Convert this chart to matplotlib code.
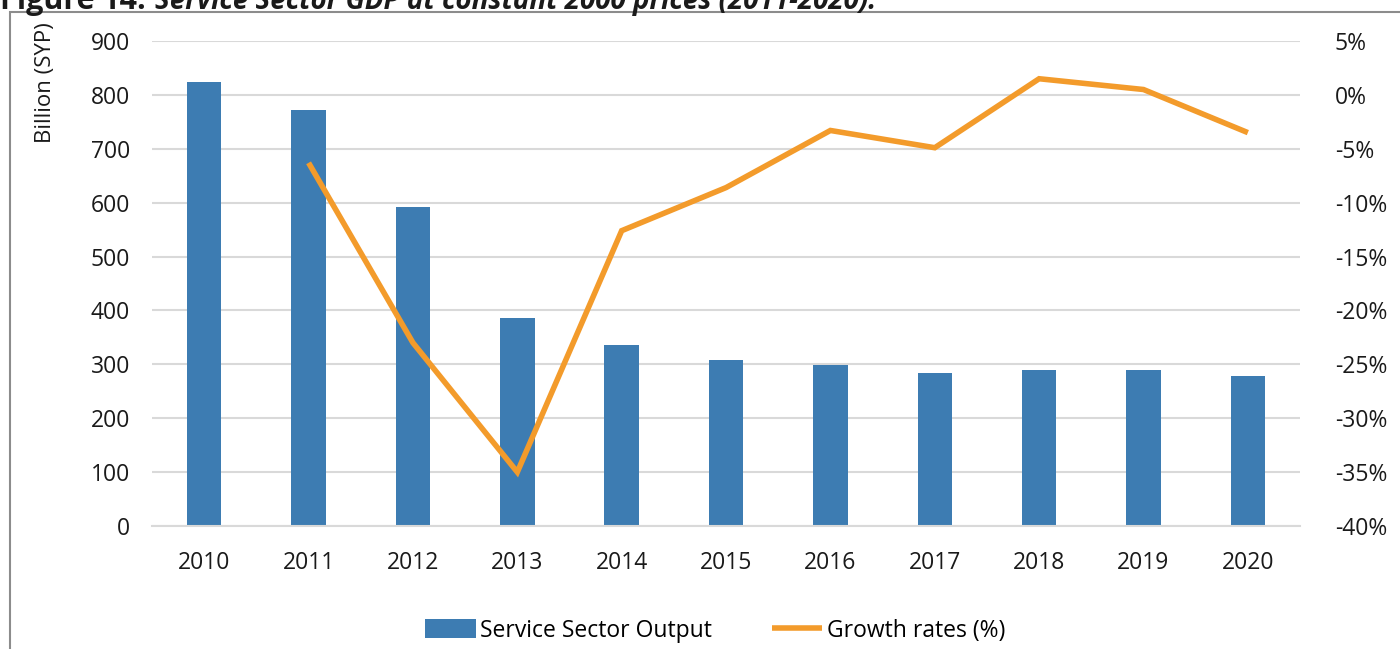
import numpy as np
import matplotlib
matplotlib.use("Agg")
import matplotlib.pyplot as plt
from matplotlib.patches import Rectangle
from matplotlib.ticker import FuncFormatter

plt.rcParams['font.family'] = ['Open Sans', 'DejaVu Sans']

years = ['2010', '2011', '2012', '2013', '2014', '2015', '2016', '2017', '2018', '2019', '2020']
output = [824, 772, 592, 386, 336, 308, 299, 284, 289, 289, 278]
growth_years = years[1:]
growth = [-6.3, -23.0, -35.0, -12.6, -8.6, -3.3, -4.9, 1.5, 0.5, -3.5]

bar_color = '#3d7cb2'
line_color = '#f39b2b'
grid_color = '#d9d9d9'
text_color = '#1a1a1a'

fig = plt.figure(figsize=(14, 6.49), dpi=100)
ax = fig.add_axes([0.1086, 0.1895, 0.82, 0.7473])

x = np.arange(len(years))
ax.bar(x, output, width=0.33, color=bar_color, label='Service Sector Output', zorder=2)
ax.set_xlim(-0.5, len(years) - 0.5)
ax.set_ylim(0, 900)
ax.set_yticks(range(0, 901, 100))
ax.set_xticks(x)
ax.set_xticklabels(years)
ax.grid(axis='y', color=grid_color, linewidth=1.5, zorder=0)
for s in ['top', 'right', 'left']:
    ax.spines[s].set_visible(False)
ax.spines['bottom'].set_color(grid_color)
ax.spines['bottom'].set_linewidth(1.5)
ax.tick_params(axis='both', length=0, labelsize=16.5, colors=text_color)
ax.tick_params(axis='y', pad=16)
ax.tick_params(axis='x', pad=18)
ax.set_ylabel('Billion (SYP)', fontsize=16, color=text_color)
ax.yaxis.set_label_coords(-0.0835, 0.915)

ax2 = ax.twinx()
gx = np.arange(1, len(years))
ax2.plot(gx, growth, color=line_color, linewidth=4, label='Growth rates (%)',
         solid_capstyle='butt', solid_joinstyle='miter', zorder=3)
ax2.set_ylim(-40, 5)
ax2.set_yticks(range(-40, 6, 5))
ax2.yaxis.set_major_formatter(FuncFormatter(lambda v, p: '%d%%' % v))
ax2.tick_params(axis='y', length=0, labelsize=16.5, colors=text_color, pad=25)
for s in ax2.spines.values():
    s.set_visible(False)

h1, l1 = ax.get_legend_handles_labels()
h2, l2 = ax2.get_legend_handles_labels()
fig.legend(h1 + h2, l1 + l2, loc='center', bbox_to_anchor=(0.511, 0.028), ncol=2,
           frameon=False, fontsize=16.5, handlelength=2.2, handleheight=0.9,
           columnspacing=2.6, handletextpad=0.2)

# frame around the chart
fig.patches.append(Rectangle((0.007, -0.05), 1.1, 0.05 + 0.9815, transform=fig.transFigure,
                             fill=False, edgecolor='#8c8c8c', linewidth=1.5))

# title, cut off at the top of the image
fig.text(0.0, 0.986, 'Figure 14:', fontsize=22, fontweight='bold', va='baseline', color=text_color)
fig.text(0.111, 0.986, 'Service Sector GDP at constant 2000 prices (2011-2020).', fontsize=20,
         fontweight='bold', fontstyle='italic', va='baseline', color=text_color)

fig.savefig('out.png', dpi=100)
